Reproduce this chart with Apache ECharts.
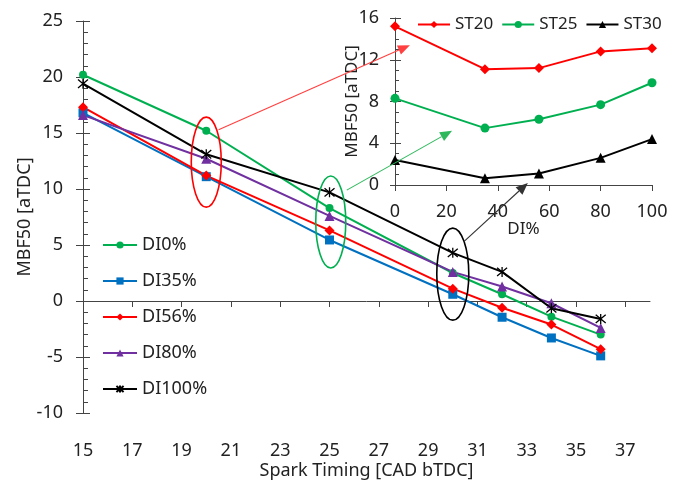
<!DOCTYPE html>
<html lang="en">
<head>
<meta charset="UTF-8">
<title>MBF50</title>
<script src="https://cdn.jsdelivr.net/npm/echarts@6.0.0/dist/echarts.min.js"></script>
<style>
  body { margin: 0; background: #fff; }
  #main { width: 681px; height: 483px; }
</style>
</head>
<body>
<div id="main"></div>
<script>
// main chart: spark timing sweep
var sparkTiming = [15, 20, 25, 30, 32, 34, 36];
var di0   = [20.2, 15.2, 8.3, 2.5, 0.6, -1.4, -3.0];
var di35  = [16.8, 11.1, 5.45, 0.6, -1.45, -3.3, -4.9];
var di56  = [17.3, 11.2, 6.3, 1.1, -0.6, -2.1, -4.3];
var di80  = [16.6, 12.7, 7.6, 2.6, 1.3, -0.2, -2.4];
var di100 = [19.4, 13.1, 9.7, 4.3, 2.6, -0.65, -1.6];
var xTicks = [15, 17, 19, 21, 23, 25, 27, 29, 31, 33, 35, 37];

// inset: DI sweep at fixed spark timing
var diLevels = [0, 35, 56, 80, 100];
var st20 = [15.2, 11.1, 11.2, 12.8, 13.1];
var st25 = [8.3, 5.45, 6.3, 7.7, 9.8];
var st30 = [2.4, 0.65, 1.1, 2.6, 4.4];

var FONT = 'Noto Sans';
var chart = echarts.init(document.getElementById('main'));

function pairs(xs, ys) {
    return xs.map(function (x, i) { return [x, ys[i]]; });
}

var asterisk = 'path://M0,0L10,10M10,0L0,10M5,-1L5,11';

function mainSeries(name, data, color, symbol, size) {
    return {
        name: name, type: 'line', xAxisIndex: 0, yAxisIndex: 0,
        data: pairs(sparkTiming, data),
        symbol: symbol, symbolSize: size,
        lineStyle: { color: color, width: 2 },
        itemStyle: symbol === asterisk
            ? { color: color, borderColor: color, borderWidth: 1.3 }
            : { color: color },
        color: color
    };
}
function insetSeries(name, data, color, symbol, size) {
    return {
        name: name, type: 'line', xAxisIndex: 1, yAxisIndex: 2,
        data: pairs(diLevels, data),
        symbol: symbol, symbolSize: size,
        lineStyle: { color: color, width: 2 },
        itemStyle: { color: color },
        color: color
    };
}

var axisText = { fontFamily: FONT, fontSize: 18, color: '#222' };

var option = {
    animation: false,
    backgroundColor: '#fff',
    grid: [
        { left: 83, right: 31, top: 21, bottom: 70, outerBoundsMode: 'none' },
        { left: 395, right: 29, top: 18, bottom: 298, outerBoundsMode: 'none' }
    ],
    xAxis: [
        {
            type: 'value', gridIndex: 0, min: 15, max: 38, interval: 2,
            name: 'Spark Timing [CAD bTDC]', nameLocation: 'middle', nameGap: 49,
            nameMoveOverlap: false,
            nameTextStyle: { fontFamily: FONT, fontSize: 18, color: '#222' },
            axisLine: { lineStyle: { color: '#444', width: 1 } },
            axisTick: { show: true, length: 6, lineStyle: { color: '#444' }, customValues: xTicks },
            axisLabel: Object.assign({ margin: 29, customValues: xTicks }, axisText),
            splitLine: { show: false }
        },
        {
            type: 'value', gridIndex: 1, min: 0, max: 100, interval: 20,
            name: 'DI%', nameLocation: 'middle', nameGap: 36,
            nameMoveOverlap: false,
            nameTextStyle: { fontFamily: FONT, fontSize: 17, color: '#222' },
            axisLine: { lineStyle: { color: '#444', width: 1 } },
            axisTick: { show: true, length: 6, lineStyle: { color: '#444' } },
            axisLabel: Object.assign({ margin: 18 }, axisText),
            splitLine: { show: false }
        }
    ],
    yAxis: [
        {
            type: 'value', gridIndex: 0, min: -10, max: 25, interval: 5, position: 'left',
            name: 'MBF50 [aTDC]', nameLocation: 'middle', nameGap: 49,
            nameMoveOverlap: false,
            nameTextStyle: { fontFamily: FONT, fontSize: 18, color: '#222' },
            axisLine: { show: true, lineStyle: { color: '#444', width: 1 } },
            axisTick: { show: true, inside: true, length: 7, lineStyle: { color: '#444' } },
            minorTick: { show: true, splitNumber: 5, length: 5, lineStyle: { color: '#444' } },
            axisLabel: Object.assign({ margin: 20 }, axisText),
            splitLine: { show: false }
        },
        {
            // outer half of the crossing major ticks
            type: 'value', gridIndex: 0, min: -10, max: 25, interval: 5, position: 'left',
            axisLine: { show: false },
            axisTick: { show: true, length: 7, lineStyle: { color: '#444' } },
            axisLabel: { show: false },
            splitLine: { show: false }
        },
        {
            type: 'value', gridIndex: 1, min: 0, max: 16, interval: 4, position: 'left',
            name: 'MBF50 [aTDC]', nameLocation: 'middle', nameGap: 34,
            nameMoveOverlap: false,
            nameTextStyle: { fontFamily: FONT, fontSize: 17, color: '#222' },
            axisLine: { show: true, lineStyle: { color: '#444', width: 1 } },
            axisTick: { show: true, inside: true, length: 6, lineStyle: { color: '#444' } },
            minorTick: { show: true, splitNumber: 4, length: 4, lineStyle: { color: '#444' } },
            axisLabel: Object.assign({ margin: 16 }, axisText),
            splitLine: { show: false }
        },
        {
            type: 'value', gridIndex: 1, min: 0, max: 16, interval: 4, position: 'left',
            axisLine: { show: false },
            axisTick: { show: true, length: 5, lineStyle: { color: '#444' } },
            axisLabel: { show: false },
            splitLine: { show: false }
        }
    ],
    legend: [
        {
            data: ['DI0%', 'DI35%', 'DI56%', 'DI80%', 'DI100%'],
            orient: 'vertical', left: 97, top: 231,
            itemWidth: 34, itemHeight: 9, itemGap: 18,
            textStyle: { fontFamily: FONT, fontSize: 18, color: '#222' }
        },
        {
            data: ['ST20', 'ST25', 'ST30'],
            orient: 'horizontal', left: 412, top: 11,
            itemWidth: 32, itemHeight: 9, itemGap: 8,
            textStyle: { fontFamily: FONT, fontSize: 17, color: '#222' }
        }
    ],
    series: [
        mainSeries('DI0%', di0, '#00B050', 'circle', 8),
        mainSeries('DI35%', di35, '#0070C0', 'rect', 9),
        mainSeries('DI56%', di56, '#FF0000', 'diamond', 10),
        mainSeries('DI80%', di80, '#7030A0', 'triangle', 10),
        mainSeries('DI100%', di100, '#000000', asterisk, 10),
        insetSeries('ST20', st20, '#FF0000', 'diamond', 10),
        insetSeries('ST25', st25, '#00B050', 'circle', 9),
        insetSeries('ST30', st30, '#000000', 'triangle', 10)
    ]
};
chart.setOption(option);

// annotations: ellipses around the spark-timing groups and arrows to the inset
function px(gridIdx, pt) {
    return chart.convertToPixel({ gridIndex: gridIdx }, pt);
}
function ellipse(center, rx, ry, color) {
    var c = px(0, center);
    return {
        type: 'ellipse', z: 50,
        shape: { cx: c[0], cy: c[1], rx: rx, ry: ry },
        style: { fill: 'none', stroke: color, lineWidth: 1.6 }
    };
}
function arrow(from, to, color) {
    var a = px(0, from), b = px(1, to);
    var ang = Math.atan2(b[1] - a[1], b[0] - a[0]);
    var L = 12, W = 5;
    var bx = b[0] - L * Math.cos(ang), by = b[1] - L * Math.sin(ang);
    var nx = -Math.sin(ang) * W, ny = Math.cos(ang) * W;
    return [
        { type: 'line', z: 50, shape: { x1: a[0], y1: a[1], x2: bx, y2: by },
          style: { stroke: color, lineWidth: 1.1 } },
        { type: 'polygon', z: 50,
          shape: { points: [[b[0], b[1]], [bx + nx, by + ny], [bx - nx, by - ny]] },
          style: { fill: color } }
    ];
}

chart.setOption({
    graphic: [
        ellipse([20, 12.4], 15, 45, '#FF0000'),
        ellipse([25.05, 7.05], 15, 46, '#00B050'),
        ellipse([30, 2.4], 16, 46, '#000000')
    ].concat(
        arrow([20.5, 15.3], [5.8, 13.4], '#FF4040'),
        arrow([25.7, 9.9], [22.2, 5.2], '#2EB85C'),
        arrow([30.45, 5.3], [51.7, 0.2], '#333333')
    )
});
</script>
</body>
</html>
